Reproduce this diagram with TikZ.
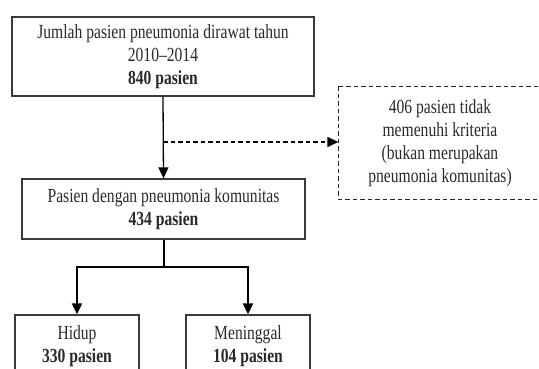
\documentclass[tikz,border=0pt]{standalone}
\usepackage{fontspec}
\setmainfont[FakeStretch=0.78]{Liberation Serif}
\usetikzlibrary{arrows.meta}
\definecolor{ink}{HTML}{2A2A2A}
\definecolor{frame}{HTML}{3A3A3A}
\begin{document}
\begin{tikzpicture}[x=1pt,y=-1pt,
  box/.style={draw=frame,line width=1.3pt,rectangle,inner sep=0pt,align=center,text=ink,
    font=\fontsize{20}{23}\selectfont},
  dline/.style={draw=black!85,line width=1.6pt,dash pattern=on 4.5pt off 3pt},
  tip/.style={-{Triangle[length=11pt,width=10pt]}},
  link/.style={draw=black,line width=1.3pt},
  fork/.style={draw=black,line width=2pt}]
\useasboundingbox (0,0) rectangle (539,369);
\clip (0,0) rectangle (539,369);
\fill[white] (0,0) rectangle (539,369);
\node[box,minimum width=302pt,minimum height=79pt] (top) at (163,56.5)
  {Jumlah pasien pneumonia dirawat tahun\\2010–2014\\\textbf{840 pasien}};
\node[box,draw=none,minimum width=202pt,minimum height=112pt] (excl) at (440,143)
  {406 pasien tidak\\memenuhi kriteria\\(bukan merupakan\\pneumonia komunitas)};
\draw[dline] (excl.north west) rectangle ([xshift=12pt]excl.south east);
\node[box,minimum width=283pt,minimum height=60pt] (mid) at (163.5,209)
  {Pasien dengan pneumonia komunitas\\\textbf{434 pasien}};
\node[box,minimum width=124pt,minimum height=62pt] (alive) at (77,346)
  {Hidup\\\textbf{330 pasien}};
\node[box,minimum width=124pt,minimum height=62pt] (dead) at (248,346)
  {Meninggal\\\textbf{104 pasien}};
\coordinate (split) at (163,142);
\coordinate (fork) at (163.5,267);
\draw[link,tip] (top.south) -- (mid.north);
\draw[link,tip,dash pattern=on 4.5pt off 3pt] (split) -- (split -| excl.west);
\draw[fork] (mid.south) -- (fork);
\draw[fork,tip] (fork) -| (alive.north);
\draw[fork,tip] (fork) -| (dead.north);
\end{tikzpicture}
\end{document}
